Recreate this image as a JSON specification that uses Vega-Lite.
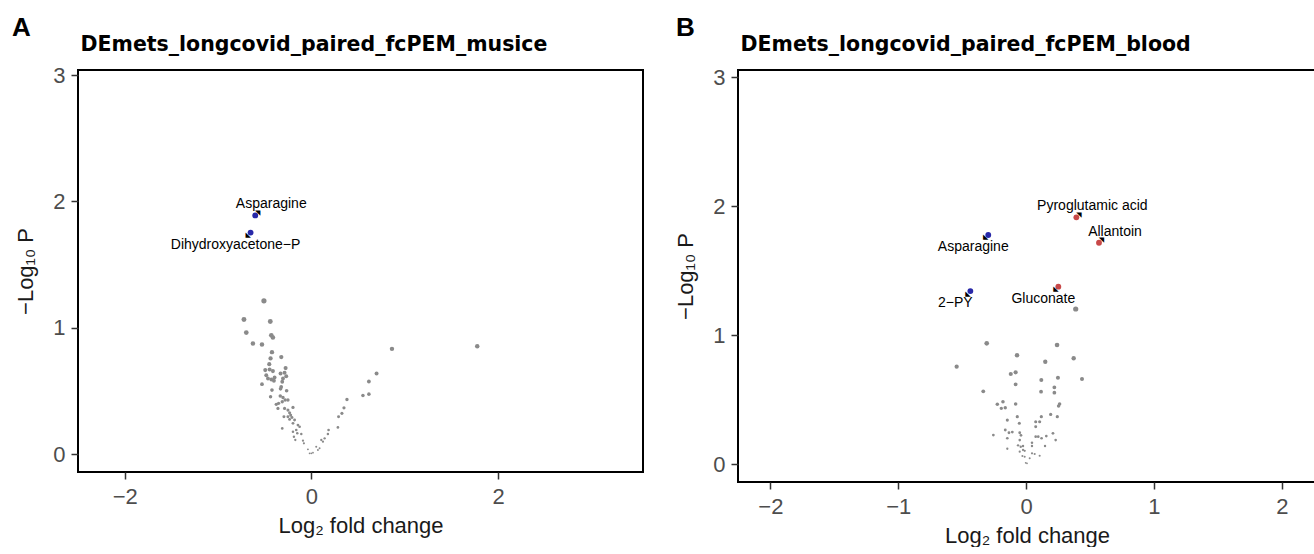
{
  "$schema": "https://vega.github.io/schema/vega-lite/v6.json",
  "background": "white",
  "padding": {"left": 11, "top": 14, "right": 0, "bottom": 0},
  "spacing": 29,
  "datasets": {
    "muscle": [
      {"lfc": -0.602, "nlp": 1.890, "status": "Down", "name": "Asparagine"},
      {"lfc": -0.652, "nlp": 1.754, "status": "Down", "name": "Dihydroxyacetone−P"},
      {"lfc": -0.509, "nlp": 1.214, "status": "NS"}, {"lfc": -0.723, "nlp": 1.066, "status": "NS"},
      {"lfc": -0.441, "nlp": 1.050, "status": "NS"}, {"lfc": -0.698, "nlp": 0.963, "status": "NS"},
      {"lfc": -0.430, "nlp": 0.942, "status": "NS"}, {"lfc": -0.413, "nlp": 0.924, "status": "NS"},
      {"lfc": -0.627, "nlp": 0.877, "status": "NS"}, {"lfc": -0.530, "nlp": 0.869, "status": "NS"},
      {"lfc": -0.423, "nlp": 0.808, "status": "NS"}, {"lfc": -0.438, "nlp": 0.758, "status": "NS"},
      {"lfc": -0.323, "nlp": 0.769, "status": "NS"}, {"lfc": -0.452, "nlp": 0.713, "status": "NS"},
      {"lfc": -0.277, "nlp": 0.682, "status": "NS"}, {"lfc": -0.495, "nlp": 0.666, "status": "NS"},
      {"lfc": -0.448, "nlp": 0.671, "status": "NS"}, {"lfc": -0.413, "nlp": 0.658, "status": "NS"},
      {"lfc": -0.331, "nlp": 0.640, "status": "NS"}, {"lfc": -0.288, "nlp": 0.645, "status": "NS"},
      {"lfc": -0.270, "nlp": 0.618, "status": "NS"}, {"lfc": -0.484, "nlp": 0.626, "status": "NS"},
      {"lfc": -0.466, "nlp": 0.600, "status": "NS"}, {"lfc": -0.430, "nlp": 0.592, "status": "NS"},
      {"lfc": -0.395, "nlp": 0.608, "status": "NS"}, {"lfc": -0.402, "nlp": 0.582, "status": "NS"},
      {"lfc": -0.305, "nlp": 0.600, "status": "NS"}, {"lfc": -0.313, "nlp": 0.574, "status": "NS"},
      {"lfc": -0.530, "nlp": 0.555, "status": "NS"}, {"lfc": -0.324, "nlp": 0.534, "status": "NS"},
      {"lfc": -0.331, "nlp": 0.518, "status": "NS"}, {"lfc": -0.423, "nlp": 0.508, "status": "NS"},
      {"lfc": -0.266, "nlp": 0.503, "status": "NS"}, {"lfc": -0.438, "nlp": 0.455, "status": "NS"},
      {"lfc": -0.334, "nlp": 0.461, "status": "NS"}, {"lfc": -0.305, "nlp": 0.450, "status": "NS"},
      {"lfc": -0.282, "nlp": 0.429, "status": "NS"}, {"lfc": -0.252, "nlp": 0.429, "status": "NS"},
      {"lfc": -0.313, "nlp": 0.416, "status": "NS"}, {"lfc": -0.377, "nlp": 0.395, "status": "NS"},
      {"lfc": -0.352, "nlp": 0.403, "status": "NS"}, {"lfc": -0.359, "nlp": 0.363, "status": "NS"},
      {"lfc": -0.288, "nlp": 0.363, "status": "NS"}, {"lfc": -0.252, "nlp": 0.350, "status": "NS"},
      {"lfc": -0.198, "nlp": 0.371, "status": "NS"}, {"lfc": -0.234, "nlp": 0.329, "status": "NS"},
      {"lfc": -0.223, "nlp": 0.310, "status": "NS"}, {"lfc": -0.252, "nlp": 0.297, "status": "NS"},
      {"lfc": -0.209, "nlp": 0.292, "status": "NS"}, {"lfc": -0.295, "nlp": 0.297, "status": "NS"},
      {"lfc": -0.234, "nlp": 0.276, "status": "NS"}, {"lfc": -0.181, "nlp": 0.271, "status": "NS"},
      {"lfc": -0.198, "nlp": 0.245, "status": "NS"}, {"lfc": -0.145, "nlp": 0.231, "status": "NS"},
      {"lfc": -0.127, "nlp": 0.218, "status": "NS"}, {"lfc": -0.313, "nlp": 0.205, "status": "NS"},
      {"lfc": -0.163, "nlp": 0.192, "status": "NS"}, {"lfc": -0.198, "nlp": 0.179, "status": "NS"},
      {"lfc": -0.152, "nlp": 0.166, "status": "NS"}, {"lfc": -0.109, "nlp": 0.160, "status": "NS"},
      {"lfc": -0.188, "nlp": 0.139, "status": "NS"}, {"lfc": -0.173, "nlp": 0.113, "status": "NS"},
      {"lfc": -0.091, "nlp": 0.108, "status": "NS"}, {"lfc": -0.081, "nlp": 0.087, "status": "NS"},
      {"lfc": -0.038, "nlp": 0.039, "status": "NS"}, {"lfc": -0.020, "nlp": 0.008, "status": "NS"},
      {"lfc": -0.002, "nlp": 0.008, "status": "NS"}, {"lfc": 0.016, "nlp": 0.013, "status": "NS"},
      {"lfc": 0.051, "nlp": 0.060, "status": "NS"}, {"lfc": 0.069, "nlp": 0.034, "status": "NS"},
      {"lfc": 0.087, "nlp": 0.047, "status": "NS"}, {"lfc": 0.105, "nlp": 0.113, "status": "NS"},
      {"lfc": 0.123, "nlp": 0.100, "status": "NS"}, {"lfc": 0.141, "nlp": 0.126, "status": "NS"},
      {"lfc": 0.176, "nlp": 0.160, "status": "NS"}, {"lfc": 0.183, "nlp": 0.192, "status": "NS"},
      {"lfc": 0.283, "nlp": 0.213, "status": "NS"}, {"lfc": 0.290, "nlp": 0.297, "status": "NS"},
      {"lfc": 0.326, "nlp": 0.324, "status": "NS"}, {"lfc": 0.348, "nlp": 0.368, "status": "NS"},
      {"lfc": 0.380, "nlp": 0.434, "status": "NS"}, {"lfc": 0.551, "nlp": 0.466, "status": "NS"},
      {"lfc": 0.615, "nlp": 0.476, "status": "NS"}, {"lfc": 0.615, "nlp": 0.576, "status": "NS"},
      {"lfc": 0.697, "nlp": 0.640, "status": "NS"}, {"lfc": 0.862, "nlp": 0.834, "status": "NS"},
      {"lfc": 1.775, "nlp": 0.855, "status": "NS"}
    ],
    "blood": [
      {"lfc": 0.393, "nlp": 1.915, "status": "Up", "name": "Pyroglutamic acid"},
      {"lfc": 0.570, "nlp": 1.718, "status": "Up", "name": "Allantoin"},
      {"lfc": -0.296, "nlp": 1.778, "status": "Down", "name": "Asparagine"},
      {"lfc": -0.436, "nlp": 1.343, "status": "Down", "name": "2−PY"},
      {"lfc": 0.252, "nlp": 1.377, "status": "Up", "name": "Gluconate"},
      {"lfc": 0.388, "nlp": 1.204, "status": "NS"}, {"lfc": -0.308, "nlp": 0.938, "status": "NS"},
      {"lfc": -0.543, "nlp": 0.757, "status": "NS"}, {"lfc": -0.071, "nlp": 0.845, "status": "NS"},
      {"lfc": 0.242, "nlp": 0.925, "status": "NS"}, {"lfc": 0.150, "nlp": 0.795, "status": "NS"},
      {"lfc": 0.372, "nlp": 0.822, "status": "NS"}, {"lfc": 0.437, "nlp": 0.661, "status": "NS"},
      {"lfc": -0.120, "nlp": 0.700, "status": "NS"}, {"lfc": -0.082, "nlp": 0.713, "status": "NS"},
      {"lfc": -0.082, "nlp": 0.620, "status": "NS"}, {"lfc": 0.249, "nlp": 0.671, "status": "NS"},
      {"lfc": 0.119, "nlp": 0.653, "status": "NS"}, {"lfc": -0.335, "nlp": 0.566, "status": "NS"},
      {"lfc": 0.117, "nlp": 0.563, "status": "NS"}, {"lfc": 0.221, "nlp": 0.597, "status": "NS"},
      {"lfc": 0.221, "nlp": 0.555, "status": "NS"}, {"lfc": 0.262, "nlp": 0.467, "status": "NS"},
      {"lfc": 0.254, "nlp": 0.452, "status": "NS"}, {"lfc": -0.225, "nlp": 0.465, "status": "NS"},
      {"lfc": -0.181, "nlp": 0.485, "status": "NS"}, {"lfc": -0.194, "nlp": 0.434, "status": "NS"},
      {"lfc": -0.163, "nlp": 0.439, "status": "NS"}, {"lfc": -0.082, "nlp": 0.467, "status": "NS"},
      {"lfc": 0.192, "nlp": 0.387, "status": "NS"}, {"lfc": 0.119, "nlp": 0.369, "status": "NS"},
      {"lfc": 0.244, "nlp": 0.369, "status": "NS"}, {"lfc": -0.069, "nlp": 0.369, "status": "NS"},
      {"lfc": -0.147, "nlp": 0.343, "status": "NS"}, {"lfc": 0.075, "nlp": 0.330, "status": "NS"},
      {"lfc": 0.106, "nlp": 0.330, "status": "NS"}, {"lfc": -0.053, "nlp": 0.318, "status": "NS"},
      {"lfc": 0.075, "nlp": 0.292, "status": "NS"}, {"lfc": -0.163, "nlp": 0.266, "status": "NS"},
      {"lfc": -0.134, "nlp": 0.245, "status": "NS"}, {"lfc": -0.108, "nlp": 0.250, "status": "NS"},
      {"lfc": -0.050, "nlp": 0.245, "status": "NS"}, {"lfc": -0.040, "nlp": 0.225, "status": "NS"},
      {"lfc": 0.210, "nlp": 0.240, "status": "NS"}, {"lfc": 0.158, "nlp": 0.219, "status": "NS"},
      {"lfc": -0.256, "nlp": 0.227, "status": "NS"}, {"lfc": 0.075, "nlp": 0.214, "status": "NS"},
      {"lfc": 0.095, "nlp": 0.214, "status": "NS"}, {"lfc": 0.121, "nlp": 0.202, "status": "NS"},
      {"lfc": -0.147, "nlp": 0.202, "status": "NS"}, {"lfc": -0.050, "nlp": 0.188, "status": "NS"},
      {"lfc": 0.231, "nlp": 0.188, "status": "NS"}, {"lfc": 0.046, "nlp": 0.167, "status": "NS"},
      {"lfc": 0.046, "nlp": 0.142, "status": "NS"}, {"lfc": -0.063, "nlp": 0.147, "status": "NS"},
      {"lfc": -0.042, "nlp": 0.136, "status": "NS"}, {"lfc": -0.024, "nlp": 0.142, "status": "NS"},
      {"lfc": 0.148, "nlp": 0.142, "status": "NS"}, {"lfc": -0.147, "nlp": 0.121, "status": "NS"},
      {"lfc": -0.024, "nlp": 0.111, "status": "NS"}, {"lfc": -0.011, "nlp": 0.105, "status": "NS"},
      {"lfc": -0.050, "nlp": 0.098, "status": "NS"}, {"lfc": 0.046, "nlp": 0.085, "status": "NS"},
      {"lfc": 0.067, "nlp": 0.080, "status": "NS"}, {"lfc": 0.106, "nlp": 0.067, "status": "NS"},
      {"lfc": -0.029, "nlp": 0.064, "status": "NS"}, {"lfc": -0.011, "nlp": 0.059, "status": "NS"},
      {"lfc": 0.028, "nlp": 0.047, "status": "NS"}, {"lfc": -0.003, "nlp": 0.012, "status": "NS"},
      {"lfc": 0.007, "nlp": 0.008, "status": "NS"}
    ]
  },
  "hconcat": [
    {
      "width": 565,
      "height": 402,
      "title": {"text": "A", "anchor": "start", "frame": "group", "dx": -66, "offset": -7},
      "data": {"name": "muscle"},
      "resolve": {"axis": {"x": "independent"}},
      "layer": [
        {
          "transform": [{"filter": "datum.status === 'NS'"}],
          "mark": {"type": "circle", "opacity": 1},
          "encoding": {
            "x": {"field": "lfc", "type": "quantitative", "title": "Log₂ fold change",
                  "scale": {"domain": [-2.5, 3.55], "nice": false, "zero": false},
                  "axis": {"values": [-2, 0, 2], "orient": "bottom"}},
            "y": {"field": "nlp", "type": "quantitative", "title": "−Log₁₀ P",
                  "scale": {"domain": [-0.14, 3.04], "nice": false, "zero": false},
                  "axis": {"values": [0, 1, 2, 3], "format": "d"}},
            "size": {"field": "nlp", "type": "quantitative", "legend": null,
                     "scale": {"domain": [0, 1.25], "range": [3, 28], "zero": false, "clamp": true}},
            "color": {"field": "status", "type": "nominal", "legend": null,
                      "scale": {"domain": ["Down", "NS", "Up"], "range": ["#2828a8", "#8a8a8a", "#c84848"]}}
          }
        },
        {
          "transform": [{"filter": "datum.status !== 'NS'"}],
          "mark": {"type": "circle", "opacity": 1, "size": 34},
          "encoding": {
            "x": {"field": "lfc", "type": "quantitative",
                  "axis": {"orient": "top", "title": "DEmets_longcovid_paired_fcPEM_musice", "labels": false, "ticks": false, "domain": false, "grid": false,
                           "minExtent": 0, "maxExtent": 0, "titlePadding": 16, "titleAnchor": "start", "titleAlign": "left", "titleX": 2,
                           "titleFont": "DejaVu Sans", "titleFontWeight": "bold", "titleFontSize": 20.5, "titleColor": "black"}},
            "y": {"field": "nlp", "type": "quantitative", "title": "−Log₁₀ P"},
            "color": {"field": "status", "type": "nominal", "legend": null}
          }
        },
        {
          "transform": [{"filter": {"field": "name", "oneOf": ["Asparagine"]}}],
          "mark": {"type": "text", "text": "◥", "fontSize": 7, "dx": 2.5, "dy": -2.5, "align": "center", "baseline": "middle", "color": "black", "font": "DejaVu Sans"},
          "encoding": {
            "x": {"field": "lfc", "type": "quantitative", "axis": null},
            "y": {"field": "nlp", "type": "quantitative", "title": "−Log₁₀ P"}
          }
        },
        {
          "transform": [{"filter": {"field": "name", "oneOf": ["Dihydroxyacetone−P"]}}],
          "mark": {"type": "text", "text": "◣", "fontSize": 7, "dx": -2.5, "dy": 2.5, "align": "center", "baseline": "middle", "color": "black", "font": "DejaVu Sans"},
          "encoding": {
            "x": {"field": "lfc", "type": "quantitative", "axis": null},
            "y": {"field": "nlp", "type": "quantitative", "title": "−Log₁₀ P"}
          }
        },
        {
          "transform": [{"filter": {"field": "name", "oneOf": ["Asparagine"]}}],
          "mark": {"type": "text", "fontSize": 14, "dx": 16, "dy": -7, "align": "center", "baseline": "alphabetic", "color": "black"},
          "encoding": {
            "x": {"field": "lfc", "type": "quantitative", "axis": null},
            "y": {"field": "nlp", "type": "quantitative", "title": "−Log₁₀ P"},
            "text": {"field": "name"}
          }
        },
        {
          "transform": [{"filter": {"field": "name", "oneOf": ["Dihydroxyacetone−P"]}}],
          "mark": {"type": "text", "fontSize": 14, "dx": -15, "dy": 16, "align": "center", "baseline": "alphabetic", "color": "black"},
          "encoding": {
            "x": {"field": "lfc", "type": "quantitative", "axis": null},
            "y": {"field": "nlp", "type": "quantitative", "title": "−Log₁₀ P"},
            "text": {"field": "name"}
          }
        }
      ]
    },
    {
      "width": 578,
      "height": 412,
      "title": {"text": "B", "anchor": "start", "frame": "group", "dx": -62, "offset": -7},
      "data": {"name": "blood"},
      "resolve": {"axis": {"x": "independent"}},
      "layer": [
        {
          "transform": [{"filter": "datum.status === 'NS'"}],
          "mark": {"type": "circle", "opacity": 1},
          "encoding": {
            "x": {"field": "lfc", "type": "quantitative", "title": "Log₂ fold change",
                  "scale": {"domain": [-2.253, 2.267], "nice": false, "zero": false},
                  "axis": {"values": [-2, -1, 0, 1, 2], "orient": "bottom"}},
            "y": {"field": "nlp", "type": "quantitative", "title": "−Log₁₀ P",
                  "scale": {"domain": [-0.137, 3.057], "nice": false, "zero": false},
                  "axis": {"values": [0, 1, 2, 3], "format": "d"}},
            "size": {"field": "nlp", "type": "quantitative", "legend": null,
                     "scale": {"domain": [0, 1.25], "range": [3, 28], "zero": false, "clamp": true}},
            "color": {"field": "status", "type": "nominal", "legend": null,
                      "scale": {"domain": ["Down", "NS", "Up"], "range": ["#2828a8", "#8a8a8a", "#c84848"]}}
          }
        },
        {
          "transform": [{"filter": "datum.status !== 'NS'"}],
          "mark": {"type": "circle", "opacity": 1, "size": 34},
          "encoding": {
            "x": {"field": "lfc", "type": "quantitative",
                  "axis": {"orient": "top", "title": "DEmets_longcovid_paired_fcPEM_blood", "labels": false, "ticks": false, "domain": false, "grid": false,
                           "minExtent": 0, "maxExtent": 0, "titlePadding": 16, "titleAnchor": "start", "titleAlign": "left", "titleX": 2,
                           "titleFont": "DejaVu Sans", "titleFontWeight": "bold", "titleFontSize": 20.5, "titleColor": "black"}},
            "y": {"field": "nlp", "type": "quantitative", "title": "−Log₁₀ P"},
            "color": {"field": "status", "type": "nominal", "legend": null}
          }
        },
        {
          "transform": [{"filter": {"field": "name", "oneOf": ["Pyroglutamic acid", "Allantoin"]}}],
          "mark": {"type": "text", "text": "◥", "fontSize": 7, "dx": 2.5, "dy": -2.5, "align": "center", "baseline": "middle", "color": "black", "font": "DejaVu Sans"},
          "encoding": {
            "x": {"field": "lfc", "type": "quantitative", "axis": null},
            "y": {"field": "nlp", "type": "quantitative", "title": "−Log₁₀ P"}
          }
        },
        {
          "transform": [{"filter": {"field": "name", "oneOf": ["Asparagine", "2−PY", "Gluconate"]}}],
          "mark": {"type": "text", "text": "◣", "fontSize": 7, "dx": -2.5, "dy": 2.5, "align": "center", "baseline": "middle", "color": "black", "font": "DejaVu Sans"},
          "encoding": {
            "x": {"field": "lfc", "type": "quantitative", "axis": null},
            "y": {"field": "nlp", "type": "quantitative", "title": "−Log₁₀ P"}
          }
        },
        {
          "transform": [{"filter": {"field": "name", "oneOf": ["Pyroglutamic acid", "Allantoin"]}}],
          "mark": {"type": "text", "fontSize": 14, "dx": 16, "dy": -7, "align": "center", "baseline": "alphabetic", "color": "black"},
          "encoding": {
            "x": {"field": "lfc", "type": "quantitative", "axis": null},
            "y": {"field": "nlp", "type": "quantitative", "title": "−Log₁₀ P"},
            "text": {"field": "name"}
          }
        },
        {
          "transform": [{"filter": {"field": "name", "oneOf": ["Asparagine", "2−PY", "Gluconate"]}}],
          "mark": {"type": "text", "fontSize": 14, "dx": -15, "dy": 16, "align": "center", "baseline": "alphabetic", "color": "black"},
          "encoding": {
            "x": {"field": "lfc", "type": "quantitative", "axis": null},
            "y": {"field": "nlp", "type": "quantitative", "title": "−Log₁₀ P"},
            "text": {"field": "name"}
          }
        }
      ]
    }
  ],
  "config": {
    "font": "Liberation Sans",
    "view": {"stroke": "black", "strokeWidth": 2},
    "title": {"fontSize": 26, "fontWeight": "bold", "color": "black", "font": "Liberation Sans"},
    "axis": {
      "grid": false, "domain": false,
      "tickSize": 7, "tickWidth": 1.5, "tickColor": "#333333",
      "labelFontSize": 22, "labelColor": "#4d4d4d", "labelPadding": 7,
      "titleFontSize": 22, "titleFontWeight": "normal", "titleColor": "#1a1a1a", "titlePadding": 8
    },
    "axisY": {"labelPadding": 6, "minExtent": 25, "maxExtent": 25, "titlePadding": 16}
  }
}
